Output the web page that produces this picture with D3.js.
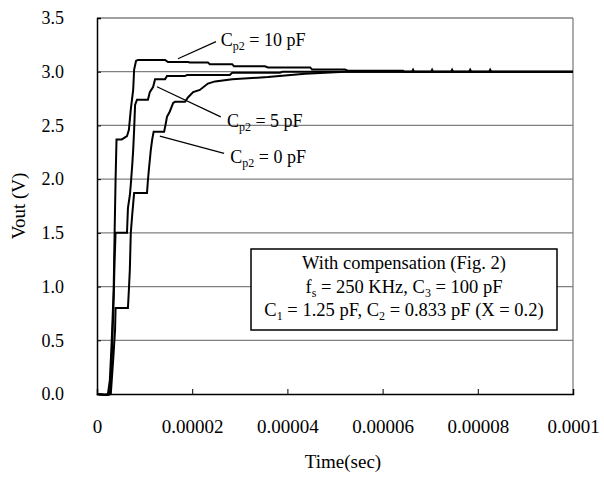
<!doctype html>
<meta charset=utf8>
<title>Vout step response</title>
<style>
  body {
    margin: 0;
    background: white;
  }

  text {
    font-family: "Liberation Serif", "Times New Roman", serif;
    fill: black;
  }

  .grid line {
    stroke: #808080;
    stroke-width: 1.3;
  }

  .curve {
    fill: none;
    stroke: black;
    stroke-width: 2;
  }

  .pointer {
    stroke: black;
    stroke-width: 1.2;
  }
</style>
<svg width=604 height=481></svg>
<script src=https://d3js.org/d3.v7.min.js></script>
<script>
  // time in microseconds, Vout in volts
  var t10 = [0, 1.5, 2.3, 2.7, 3.1, 3.5, 3.7, 3.9, 4.1, 5.2, 6.3, 6.7, 7.1, 7.6, 7.8, 8.2, 8.6, 14.3, 14.9, 19.1, 19.5, 23.3, 23.7, 28.4, 28.8, 35.3, 35.9, 44.8, 45.2, 52.1, 52.7, 64.3, 64.6,
    66.2, 66.4, 66.6, 70.2, 70.4, 70.6, 74.4, 74.6, 74.8, 78.2, 78.4, 78.6, 82.4, 82.6, 82.8, 100];
  var v10 = [0, -0.01, 0, 0.13, 0.5, 0.97, 1.5, 1.99, 2.37, 2.37, 2.4, 2.46, 2.65, 2.83, 3.02, 3.1, 3.11, 3.11, 3.09, 3.09, 3.085, 3.085, 3.07, 3.07, 3.05, 3.05, 3.04, 3.04, 3.02, 3.02, 3.01, 3.01, 3.0,
    3.0, 3.018, 3.0, 3.0, 3.018, 3.0, 3.0, 3.018, 3.0, 3.0, 3.018, 3.0, 3.0, 3.018, 3.0, 3.0];

  var t5 = [0, 1.9, 2.7, 3.1, 3.3, 3.5, 3.7, 3.9, 6.3, 6.5, 6.9, 7.1, 7.4, 7.6, 7.8, 8.0, 8.4, 10.7, 11.1, 11.8, 12.2, 14.3, 14.7, 18.5, 18.9, 27.9, 28.4, 38.4, 39.0, 100];
  var v5 = [0, -0.01, 0, 0.32, 0.6, 0.88, 1.25, 1.5, 1.5, 1.73, 1.85, 1.95, 2.13, 2.27, 2.46, 2.69, 2.74, 2.74, 2.81, 2.86, 2.93, 2.93, 2.96, 2.96, 2.97, 2.97, 2.99, 2.99, 3.0, 3.0];

  var t0 = [0, 2.3, 2.9, 3.4, 3.8, 3.9, 6.5, 6.7, 6.9, 7.1, 7.4, 7.8, 10.5, 10.7, 10.9, 11.3, 11.6, 11.9, 14.1, 14.5, 14.7, 15.3, 16.0, 16.4, 18.5, 19.1, 20.2, 21.6, 23.3, 24.8, 28.4, 35.9, 43.7, 52.1, 100];
  var v0 = [0, -0.01, 0, 0.32, 0.6, 0.8, 0.8, 0.97, 1.16, 1.5, 1.67, 1.87, 1.87, 1.99, 2.09, 2.27, 2.37, 2.44, 2.44, 2.53, 2.58, 2.63, 2.71, 2.72, 2.72, 2.76, 2.81, 2.83, 2.89, 2.91, 2.93, 2.95, 2.98, 3.0, 3.0];

  var seriesNames = ['10', '5', '0'];
  var seriesTimes = [t10, t5, t0];
  var seriesValues = [v10, v5, v0];

  var xTicks = [0, 20, 40, 60, 80, 100];
  var xTickLabels = ['0', '0.00002', '0.00004', '0.00006', '0.00008', '0.0001'];
  var yTicks = [0, 0.5, 1, 1.5, 2, 2.5, 3, 3.5];
  var yTickLabels = ['0.0', '0.5', '1.0', '1.5', '2.0', '2.5', '3.0', '3.5'];

  // pointer start [t, v], pointer end [t, v], label position [t, v]
  var labelStart = [[17.0, 3.12], [12.6, 2.86], [13.2, 2.40]];
  var labelEnd = [[25.0, 3.28], [26.0, 2.58], [26.7, 2.24]];
  var labelPos = [[26.0, 3.24], [27.3, 2.49], [28.0, 2.15]];

  var boxLines = [
    [['With compensation (Fig. 2)']],
    [['f'], ['s', 'sub'], [' = 250 KHz, C'], ['3', 'sub'], [' = 100 pF']],
    [['C'], ['1', 'sub'], [' = 1.25 pF, C'], ['2', 'sub'], [' = 0.833 pF (X = 0.2)']]
  ];

  var svg = d3.select('svg');
  var margin = {top: 18, right: 31, bottom: 87, left: 97};
  var width = svg.attr('width') - margin.left - margin.right;
  var height = svg.attr('height') - margin.top - margin.bottom;
  var g = svg.append('g').attr('transform', 'translate(' + margin.left + ',' + margin.top + ')');

  var x = d3.scaleLinear().domain([0, 100]).range([0, width]);
  var y = d3.scaleLinear().domain([0, 3.5]).range([height, 0]);

  // grid lines and frame
  var grid = g.append('g').attr('class', 'grid');
  grid.selectAll('.h')
    .data(yTicks.slice(1))
    .enter()
    .append('line')
    .attr('x1', 0)
    .attr('x2', width)
    .attr('y1', function(d) { return y(d); })
    .attr('y2', function(d) { return y(d); });
  grid.append('line')
    .attr('x1', width).attr('x2', width)
    .attr('y1', 0).attr('y2', height);

  // axes
  g.append('g')
    .attr('transform', 'translate(0,' + height + ')')
    .call(d3.axisBottom(x)
      .tickValues(xTicks)
      .tickSize(-5)
      .tickPadding(26)
      .tickFormat(function(d, i) { return xTickLabels[i]; }))
    .call(styleAxis, 19);

  g.append('g')
    .call(d3.axisLeft(y)
      .tickValues(yTicks)
      .tickSize(-4)
      .tickPadding(33)
      .tickFormat(function(d, i) { return yTickLabels[i]; }))
    .call(styleAxis, 18);

  function styleAxis(sel, size) {
    sel.select('.domain').attr('stroke', 'black').attr('stroke-width', 1.5);
    sel.selectAll('.tick line').attr('stroke', 'black');
    sel.selectAll('.tick text')
      .attr('font-size', size)
      .attr('fill', 'black');
  }

  // curves
  var line = d3.line()
    .x(function(d) { return x(d[0]); })
    .y(function(d) { return y(d[1]); });

  g.selectAll('.curve')
    .data(seriesNames)
    .enter()
    .append('path')
    .attr('class', 'curve')
    .attr('d', function(d, i) {
      return line(d3.zip(seriesTimes[i], seriesValues[i]));
    });

  // series labels
  seriesNames.forEach(function(name, i) {
    g.append('line')
      .attr('class', 'pointer')
      .attr('x1', x(labelStart[i][0]))
      .attr('y1', y(labelStart[i][1]))
      .attr('x2', x(labelEnd[i][0]))
      .attr('y2', y(labelEnd[i][1]));
    var t = g.append('text')
      .attr('x', x(labelPos[i][0]))
      .attr('y', y(labelPos[i][1]))
      .attr('font-size', 18);
    t.append('tspan').text('C');
    t.append('tspan').attr('font-size', 12).attr('dy', 4).text('p2');
    t.append('tspan').attr('dy', -4).text(' = ' + name + ' pF');
  });

  // parameter box
  var box = {x: 154, y: 231, w: 306, h: 81};
  g.append('rect')
    .attr('x', box.x)
    .attr('y', box.y)
    .attr('width', box.w)
    .attr('height', box.h)
    .attr('fill', 'white')
    .attr('stroke', 'black')
    .attr('stroke-width', 1.5);

  boxLines.forEach(function(parts, i) {
    var t = g.append('text')
      .attr('x', box.x + box.w / 2)
      .attr('y', box.y + 20 + i * 23.5)
      .attr('text-anchor', 'middle')
      .attr('font-size', 18.5);
    var shifted = false;
    parts.forEach(function(p) {
      var s = t.append('tspan').text(p[0]);
      if (p[1] === 'sub') {
        s.attr('font-size', 12).attr('dy', 4);
        shifted = true;
      } else if (shifted) {
        s.attr('dy', -4);
        shifted = false;
      }
    });
  });

  // axis titles
  svg.append('text')
    .attr('x', 343)
    .attr('y', 468)
    .attr('text-anchor', 'middle')
    .attr('font-size', 19)
    .text('Time(sec)');

  svg.append('text')
    .attr('transform', 'translate(25,' + (margin.top + height / 2) + ') rotate(-90)')
    .attr('text-anchor', 'middle')
    .attr('font-size', 19)
    .text('Vout (V)');
</script>
